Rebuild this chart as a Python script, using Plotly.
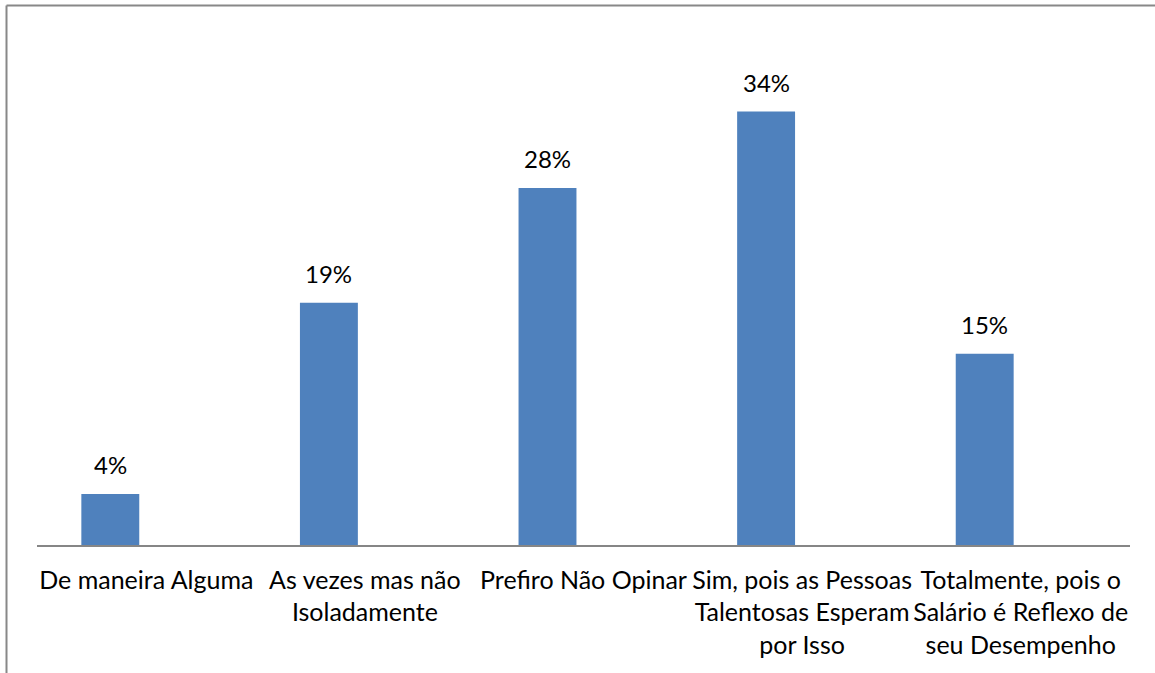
import plotly.graph_objects as go

categories = [
    "De maneira Alguma",
    "As vezes mas não<br>Isoladamente",
    "Prefiro Não Opinar",
    "Sim, pois as Pessoas<br>Talentosas Esperam<br>por Isso",
    "Totalmente, pois o<br>Salário é Reflexo de<br>seu Desempenho",
]
values = [4, 19, 28, 34, 15]
value_labels = ["4%", "19%", "28%", "34%", "15%"]

W, H = 1155, 673
L, R, T, B = 37, 25, 86, 128
pw, ph = W - L - R, H - T - B
FONT = "Lato"
FS = 25
BAR_W = 0.265
SHIFT_PX = -36  # bars sit left of their category centres in the reference
band_px = pw / len(categories)
offset = -BAR_W / 2 + SHIFT_PX / band_px

fig = go.Figure(go.Bar(
    x=categories, y=values,
    marker=dict(color="#4F81BD", line=dict(width=0)),
    width=BAR_W, offset=offset, cliponaxis=False, hoverinfo="skip",
))

for c, v, t in zip(categories, values, value_labels):
    fig.add_annotation(x=c, y=v, text=t, showarrow=False, yanchor="bottom",
                       xshift=SHIFT_PX, yshift=13,
                       font=dict(family=FONT, size=24, color="#000000"))

def px_x(p):
    return (p - L) / pw

def px_y(p):
    return (H - B - p) / ph

fig.update_layout(
    width=W, height=H,
    margin=dict(l=L, r=R, t=T, b=B, autoexpand=False),
    paper_bgcolor="white", plot_bgcolor="white",
    showlegend=False,
    font=dict(family=FONT, size=FS, color="#000000"),
    xaxis=dict(showline=True, linecolor="#868686", linewidth=1.5,
               ticks="", showgrid=False, tickangle=0, automargin=False,
               ticklabelstandoff=12,
               tickfont=dict(family=FONT, size=FS, color="#000000")),
    yaxis=dict(range=[0, 36], visible=False, showgrid=False, automargin=False),
    shapes=[
        dict(type="line", xref="paper", yref="paper",
             x0=px_x(6.5), x1=px_x(6.5), y0=px_y(5.5), y1=px_y(H + 10),
             line=dict(color="#888888", width=2)),
        dict(type="line", xref="paper", yref="paper",
             x0=px_x(6.5), x1=px_x(W + 10), y0=px_y(5.5), y1=px_y(5.5),
             line=dict(color="#888888", width=2)),
    ],
)

fig.write_html("out.html", config={"displayModeBar": False},
               post_script="document.body.style.margin='0';document.body.style.overflow='hidden';")
